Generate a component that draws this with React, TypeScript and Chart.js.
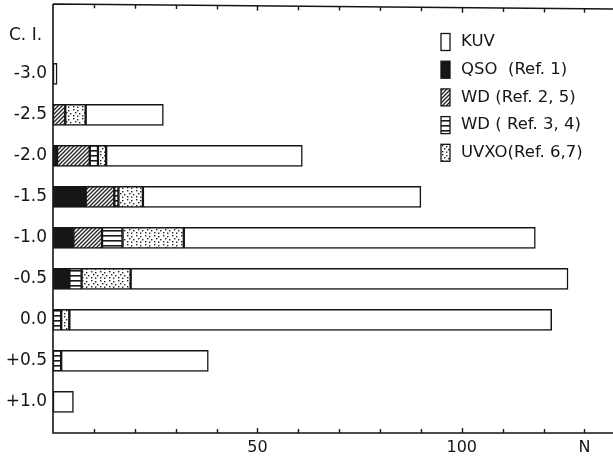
import React, { useEffect, useRef } from 'react';
import { Chart, registerables } from 'chart.js';

Chart.register(...registerables);

// Colour index rows (top to bottom) and their tick labels
const ciValues = [-3.0, -2.5, -2.0, -1.5, -1.0, -0.5, 0.0, 0.5, 1.0];
const ciLabels = ['-3.0', '-2.5', '-2.0', '-1.5', '-1.0', '-0.5', '0.0', '+0.5', '+1.0'];

// Counts N per colour-index bin (stacked left to right: QSO, WD25, WD34, UVXO, KUV)
const qsoCounts = [0, 0, 1, 8, 5, 4, 0, 0, 0];
const wd25Counts = [0, 3, 8, 7, 7, 0, 0, 0, 0];
const wd34Counts = [0, 0, 2, 1, 5, 3, 2, 2, 0];
const uvxoCounts = [0, 5, 2, 6, 15, 12, 2, 0, 0];
const kuvCounts = [1, 19, 48, 68, 86, 107, 118, 36, 5];

// Series names (legend texts)
const nameKUV = 'KUV';
const nameQSO = 'QSO  (Ref. 1)';
const nameWD25 = 'WD (Ref. 2, 5)';
const nameWD34 = 'WD ( Ref. 3, 4)';
const nameUVXO = 'UVXO(Ref. 6,7)';

// X axis labelled ticks
const xTickValues = [50, 100, 130];
const xTickTexts = ['50', '100', 'N'];
const yAxisTitle = 'C. I.';

const FONT = "'DejaVu Sans', sans-serif";
const INK = '#151515';

function makePattern(kind: string): CanvasPattern | string {
  const c = document.createElement('canvas');
  const g = c.getContext('2d')!;
  if (kind === 'qso') return '#161616';
  if (kind === 'kuv') return '#ffffff';
  if (kind === 'wd25') {
    c.width = 4; c.height = 4;
    g.fillStyle = '#fff'; g.fillRect(0, 0, 4, 4);
    g.strokeStyle = '#222'; g.lineWidth = 1.3;
    g.beginPath();
    g.moveTo(-1, 5); g.lineTo(5, -1);
    g.moveTo(-3, 3); g.lineTo(3, -3);
    g.moveTo(1, 7); g.lineTo(7, 1);
    g.stroke();
  } else if (kind === 'wd34') {
    c.width = 4; c.height = 5;
    g.fillStyle = '#fff'; g.fillRect(0, 0, 4, 5);
    g.fillStyle = '#1a1a1a'; g.fillRect(0, 0, 4, 1.6);
  } else if (kind === 'uvxo') {
    c.width = 9; c.height = 9;
    g.fillStyle = '#fff'; g.fillRect(0, 0, 9, 9);
    g.fillStyle = '#222';
    const dots = [[1, 1], [5, 2], [3, 4], [7, 5], [1, 7], [5, 7.5]];
    dots.forEach(([x, y]) => g.fillRect(x, y, 1.4, 1.4));
  }
  return g.createPattern(c, 'repeat')!;
}

export default function App() {
  const ref = useRef<HTMLCanvasElement | null>(null);

  useEffect(() => {
    const canvas = ref.current!;
    const fills: Record<string, any> = {
      qso: makePattern('qso'),
      wd25: makePattern('wd25'),
      wd34: makePattern('wd34'),
      uvxo: makePattern('uvxo'),
      kuv: makePattern('kuv'),
    };
    const toData = (arr: number[]) =>
      ciValues.map((c, i) => ({ x: arr[i], y: c })).filter((d) => d.x > 0);

    const series = [
      { key: 'qso', label: nameQSO, values: qsoCounts },
      { key: 'wd25', label: nameWD25, values: wd25Counts },
      { key: 'wd34', label: nameWD34, values: wd34Counts },
      { key: 'uvxo', label: nameUVXO, values: uvxoCounts },
      { key: 'kuv', label: nameKUV, values: kuvCounts },
    ];
    const legendItems = [
      { key: 'kuv', label: nameKUV },
      { key: 'qso', label: nameQSO },
      { key: 'wd25', label: nameWD25 },
      { key: 'wd34', label: nameWD34 },
      { key: 'uvxo', label: nameUVXO },
    ];

    const framePlugin = {
      id: 'frame',
      afterDraw(chart: any) {
        const { ctx, chartArea: a } = chart;
        const xs = chart.scales.x;
        ctx.save();
        ctx.strokeStyle = INK;
        ctx.lineWidth = 1.6;
        ctx.beginPath();
        ctx.moveTo(a.left, a.top - 1);
        ctx.lineTo(a.right, a.top + 4);
        ctx.moveTo(a.left, a.top - 1);
        ctx.lineTo(a.left, a.bottom);
        ctx.lineTo(a.right, a.bottom);
        ctx.stroke();
        // inward ticks
        ctx.lineWidth = 1.4;
        ctx.beginPath();
        for (let v = 10; v <= 130; v += 10) {
          const px = Math.round(xs.getPixelForValue(v)) + 0.5;
          const tl = v % 50 === 0 ? 5 : 4;
          ctx.moveTo(px, a.bottom);
          ctx.lineTo(px, a.bottom - tl);
          const ty = a.top - 1 + (5 * (px - a.left)) / (a.right - a.left);
          ctx.moveTo(px, ty);
          ctx.lineTo(px, ty + tl);
        }
        ctx.stroke();
        // y axis title
        ctx.fillStyle = INK;
        ctx.font = `17px ${FONT}`;
        ctx.textBaseline = 'middle';
        ctx.textAlign = 'left';
        ctx.fillText(yAxisTitle, 9, 36);
        // legend
        const lx = 441;
        let ly = 42;
        ctx.font = `16.5px ${FONT}`;
        legendItems.forEach((it) => {
          ctx.fillStyle = fills[it.key];
          ctx.fillRect(lx, ly - 8.5, 9, 17);
          ctx.strokeStyle = INK;
          ctx.lineWidth = 1.3;
          ctx.strokeRect(lx, ly - 8.5, 9, 17);
          ctx.fillStyle = INK;
          ctx.fillText(it.label, 461, ly);
          ly += 27.7;
        });
        ctx.restore();
      },
    };

    const chart = new Chart(canvas, {
      type: 'bar',
      data: {
        datasets: series.map((s) => ({
          label: s.label,
          data: toData(s.values),
          backgroundColor: fills[s.key],
          borderColor: INK,
          borderWidth: 1.5,
          borderSkipped: false,
          barThickness: 21,
        })) as any,
      },
      options: {
        indexAxis: 'y',
        responsive: false,
        animation: false,
        devicePixelRatio: 1,
        layout: { padding: { top: 5, right: 0, left: 0, bottom: 0 } },
        plugins: { legend: { display: false }, tooltip: { enabled: false } },
        scales: {
          x: {
            type: 'linear',
            stacked: true,
            min: 0,
            max: 137,
            offset: false,
            grid: { display: false, drawTicks: false },
            border: { display: false },
            afterFit: (s: any) => { s.height = 25; s.paddingLeft = 0; s.paddingRight = 0; },
            afterBuildTicks: (s: any) => { s.ticks = xTickValues.map((v) => ({ value: v })); },
            ticks: {
              autoSkip: false,
              maxRotation: 0,
              padding: 5,
              color: INK,
              font: { family: FONT, size: 16 },
              callback: (v: any) => {
                const i = xTickValues.indexOf(Number(v));
                return i >= 0 ? xTickTexts[i] : '';
              },
            },
          },
          y: {
            type: 'linear',
            stacked: true,
            reverse: true,
            offset: false,
            min: -3.84,
            max: 1.38,
            grid: { display: false, drawTicks: false },
            border: { display: false },
            afterFit: (s: any) => { s.width = 53; s.paddingTop = 0; s.paddingBottom = 0; },
            afterBuildTicks: (s: any) => { s.ticks = ciValues.map((v) => ({ value: v })); },
            ticks: {
              autoSkip: false,
              padding: 6,
              color: INK,
              font: { family: FONT, size: 17 },
              callback: (v: any) => {
                const i = ciValues.findIndex((c) => Math.abs(c - Number(v)) < 1e-6);
                return i >= 0 ? ciLabels[i] : '';
              },
            },
          },
        },
      } as any,
      plugins: [framePlugin],
    });
    return () => chart.destroy();
  }, []);

  return (
    <div style={{ position: 'fixed', left: 0, top: 0, width: 613, height: 458, background: '#fff' }}>
      <canvas ref={ref} width={613} height={458} style={{ display: 'block' }} />
    </div>
  );
}
